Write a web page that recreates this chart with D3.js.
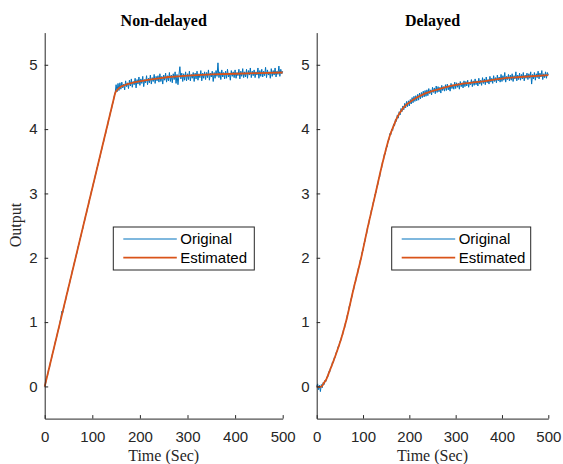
<!DOCTYPE html>
<html><head><meta charset="utf-8">
<script src="https://cdn.jsdelivr.net/npm/d3@7"></script>
<style>
body{margin:0;background:#fff;}
svg{display:block;}
</style></head>
<body>
<script>
// ---- data ----
const timeStep = 2; // seconds between original samples
const xTicks = [0, 100, 200, 300, 400, 500];
const yTicks = [0, 1, 2, 3, 4, 5];
const legendLabels = ["Original", "Estimated"];
const titles = ["Non-delayed", "Delayed"];

const nonDelayedOriginal = [
 0.00,0.05,0.14,0.17,0.26,0.29,0.38,0.42,0.50,0.55,
 0.61,0.69,0.73,0.80,0.87,0.91,1.00,1.06,1.17,1.15,
 1.22,1.30,1.34,1.43,1.47,1.55,1.59,1.67,1.71,1.80,
 1.84,1.92,1.96,2.04,2.08,2.17,2.21,2.29,2.33,2.41,
 2.45,2.54,2.58,2.66,2.70,2.78,2.82,2.91,2.95,3.03,
 3.07,3.15,3.19,3.27,3.32,3.40,3.44,3.52,3.56,3.64,
 3.69,3.77,3.81,3.89,3.93,4.01,4.05,4.14,4.18,4.26,
 4.30,4.38,4.42,4.51,4.56,4.69,4.58,4.71,4.60,4.72,
 4.62,4.73,4.64,4.70,4.61,4.75,4.66,4.72,4.63,4.76,
 4.67,4.78,4.65,4.74,4.69,4.79,4.64,4.77,4.70,4.81,
 4.68,4.78,4.71,4.82,4.66,4.77,4.72,4.83,4.69,4.79,
 4.72,4.84,4.70,4.80,4.74,4.85,4.71,4.82,4.75,4.83,
 4.73,4.86,4.74,4.82,4.70,4.84,4.76,4.87,4.73,4.83,
 4.75,4.88,4.74,4.84,4.72,4.86,4.77,4.89,4.71,4.85,
 4.69,4.84,4.97,4.78,4.87,4.74,4.86,4.76,4.89,4.75,
 4.86,4.77,4.90,4.75,4.85,4.79,4.88,4.74,4.87,4.78,
 4.90,4.76,4.86,4.80,4.91,4.75,4.87,4.79,4.89,4.77,
 4.88,4.80,4.92,4.76,4.87,4.81,4.90,4.74,4.88,4.79,
 4.91,4.82,5.03,4.80,4.89,4.77,4.92,4.81,4.88,4.78,
 4.90,4.79,4.93,4.81,4.87,4.76,4.91,4.82,4.89,4.80,
 4.92,4.79,4.88,4.83,4.93,4.78,4.90,4.82,4.94,4.80,
 4.89,4.81,4.93,4.79,4.91,4.84,4.95,4.80,4.90,4.83,
 4.92,4.80,4.89,4.84,4.95,4.79,4.91,4.82,4.93,4.81,
 4.90,4.83,4.96,4.80,4.92,4.84,4.89,4.79,4.94,4.82,
 4.91,4.84,4.95,4.81,4.90,4.85,4.98,4.82,4.93,4.86,
 4.90
];
const nonDelayedEstimatedT = [0,148,150,155,160,170,180,190,205,220,240,260,280,300,350,400,450,500];
const nonDelayedEstimatedY = [0,4.56,4.59,4.63,4.66,4.69,4.71,4.73,4.75,4.77,4.79,4.81,4.82,4.83,4.85,4.86,4.87,4.88];

const delayedOriginal = [
 0.00,0.04,-0.05,0.02,-0.08,0.03,-0.02,0.06,0.03,0.10,
 0.08,0.15,0.15,0.23,0.22,0.30,0.30,0.38,0.37,0.45,
 0.45,0.53,0.54,0.62,0.62,0.70,0.71,0.79,0.80,0.89,
 0.90,0.99,1.01,1.11,1.14,1.24,1.26,1.36,1.39,1.49,
 1.51,1.61,1.63,1.73,1.74,1.84,1.86,1.96,1.98,2.09,
 2.11,2.22,2.25,2.35,2.38,2.49,2.51,2.61,2.64,2.74,
 2.76,2.86,2.89,2.99,3.01,3.11,3.14,3.24,3.26,3.36,
 3.39,3.49,3.51,3.61,3.61,3.71,3.72,3.82,3.83,3.93,
 3.91,4.00,3.98,4.08,4.05,4.15,4.12,4.22,4.17,4.27,
 4.22,4.32,4.27,4.36,4.30,4.40,4.33,4.43,4.35,4.44,
 4.36,4.46,4.39,4.49,4.41,4.51,4.43,4.52,4.44,4.54,
 4.45,4.56,4.47,4.57,4.49,4.59,4.50,4.60,4.51,4.61,
 4.52,4.63,4.55,4.61,4.53,4.65,4.57,4.64,4.55,4.67,
 4.57,4.66,4.58,4.65,4.56,4.68,4.60,4.66,4.59,4.69,
 4.60,4.70,4.61,4.67,4.59,4.71,4.63,4.69,4.62,4.73,
 4.63,4.72,4.65,4.71,4.62,4.74,4.66,4.72,4.64,4.75,
 4.66,4.74,4.67,4.76,4.65,4.73,4.69,4.77,4.66,4.75,
 4.68,4.78,4.69,4.75,4.67,4.79,4.70,4.76,4.68,4.80,
 4.71,4.78,4.69,4.81,4.72,4.77,4.70,4.82,4.73,4.79,
 4.71,4.83,4.74,4.80,4.72,4.84,4.75,4.81,4.73,4.85,
 4.74,4.83,4.76,4.88,4.73,4.82,4.77,4.85,4.75,4.84,
 4.76,4.86,4.74,4.83,4.78,4.89,4.75,4.84,4.77,4.87,
 4.76,4.85,4.78,4.88,4.75,4.84,4.79,4.87,4.77,4.86,
 4.79,4.89,4.70,4.85,4.78,4.88,4.76,4.86,4.80,4.90,
 4.78,4.87,4.81,4.91,4.77,4.86,4.80,4.89,4.79,4.88,
 4.84
];
const delayedEstimatedT = [0,5,11,15,20,29,40,54,63,79,96,111,127,143,158,165,173,187,209,230,259,295,331,367,403,439,500];
const delayedEstimatedY = [0,-0.01,0,0.05,0.10,0.26,0.47,0.77,1.0,1.5,2.0,2.5,3.0,3.5,3.9,4.03,4.17,4.33,4.46,4.54,4.61,4.68,4.72,4.75,4.79,4.81,4.84];

// ---- layout ----
const W = 563, H = 464;
const blue = "#0072BD", orange = "#D95319", ink = "#262626";
const sans = "'Liberation Sans', Arial, Helvetica, sans-serif";
const serif = "'Liberation Serif', 'Times New Roman', serif";

const svg = d3.select("body").append("svg").attr("width", W).attr("height", H);

const y = d3.scaleLinear().domain([-0.5, 5.5]).range([418.6, 32.6]);

const panels = [
  {x0: 44.7, x1: 282.7, orig: nonDelayedOriginal, et: nonDelayedEstimatedT, ey: nonDelayedEstimatedY, curve: d3.curveLinear, title: titles[0], legX: 113.3, legW: 141},
  {x0: 316.7, x1: 548.3, orig: delayedOriginal, et: delayedEstimatedT, ey: delayedEstimatedY, curve: d3.curveMonotoneX, title: titles[1], legX: 391.7, legW: 139}
];

panels.forEach((p) => {
  const x = d3.scaleLinear().domain([0, 500]).range([p.x0, p.x1]);
  const g = svg.append("g");

  const origData = p.orig.map((v, i) => [i * timeStep, v]);
  const estData = p.et.map((t, i) => [t, p.ey[i]]);

  g.append("path").datum(origData)
    .attr("d", d3.line().x(d => x(d[0])).y(d => y(d[1])))
    .attr("fill", "none").attr("stroke", blue).attr("stroke-width", 1).attr("stroke-linejoin", "round");
  g.append("path").datum(estData)
    .attr("d", d3.line().curve(p.curve).x(d => x(d[0])).y(d => y(d[1])))
    .attr("fill", "none").attr("stroke", orange).attr("stroke-width", 1.8).attr("stroke-linejoin", "round");

  // axes
  const ax = g.append("g").attr("transform", `translate(0,${y(-0.5)})`)
    .call(d3.axisBottom(x).tickValues(xTicks).tickSizeInner(-3.5).tickSizeOuter(0).tickPadding(13));
  const ay = g.append("g").attr("transform", `translate(${p.x0},0)`)
    .call(d3.axisLeft(y).tickValues(yTicks).tickFormat(d3.format("d")).tickSizeInner(-3.5).tickSizeOuter(0).tickPadding(7));
  [ax, ay].forEach(a => {
    a.selectAll("path,line").attr("stroke", ink).attr("stroke-width", 1);
    a.selectAll("text").attr("fill", ink).style("font-family", sans).style("font-size", "15px");
  });

  const cx = (p.x0 + p.x1) / 2;
  g.append("text").attr("x", cx).attr("y", 26).attr("text-anchor", "middle")
    .style("font-family", serif).style("font-weight", "bold").style("font-size", "16px")
    .attr("fill", "#000").text(p.title);
  g.append("text").attr("x", cx).attr("y", 461).attr("text-anchor", "middle")
    .style("font-family", serif).style("font-size", "16px").attr("fill", ink).text("Time (Sec)");

  // legend
  const lg = g.append("g").attr("transform", `translate(${p.legX},227)`);
  lg.append("rect").attr("width", p.legW).attr("height", 43)
    .attr("fill", "#fff").attr("stroke", ink).attr("stroke-width", 1);
  [blue, orange].forEach((c, i) => {
    const yy = 12 + i * 18.7;
    lg.append("line").attr("x1", 10).attr("x2", 63.5).attr("y1", yy).attr("y2", yy)
      .attr("stroke", c).attr("stroke-width", i ? 1.8 : 1.2);
    lg.append("text").attr("x", 67).attr("y", yy + 5.3)
      .style("font-family", sans).style("font-size", "15px").attr("fill", "#000").text(legendLabels[i]);
  });
});

svg.append("text").attr("transform", `translate(21,225) rotate(-90)`).attr("text-anchor", "middle")
  .style("font-family", serif).style("font-size", "16px").attr("fill", ink).text("Output");
</script>
</body></html>
